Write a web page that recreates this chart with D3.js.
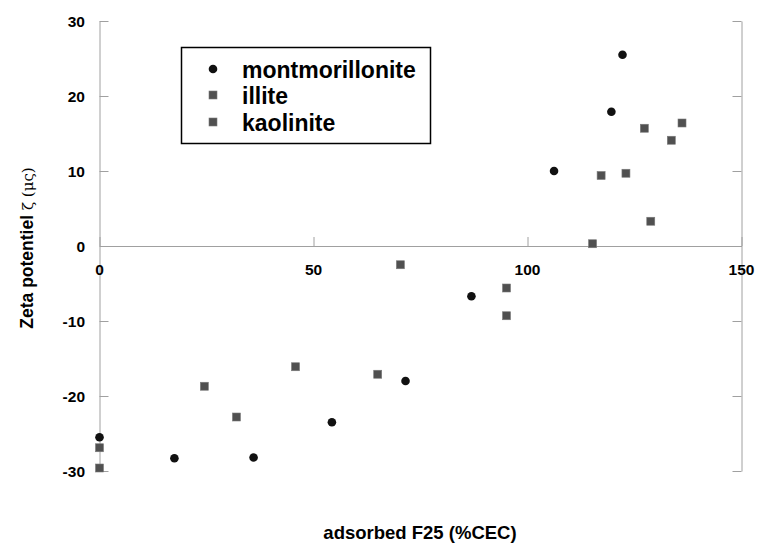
<!DOCTYPE html>
<html>
<head>
<meta charset="utf-8">
<script src="https://cdn.jsdelivr.net/npm/d3@7"></script>
<style>
  html, body { margin: 0; padding: 0; background: #fff; }
  svg { display: block; font-family: "Liberation Sans", Arial, sans-serif; }
</style>
</head>
<body>
<svg id="chart" width="757" height="547"></svg>
<script>
// ---- data ----
const montX = [0, 17.5, 36, 54.3, 71.5, 86.9, 106.2, 119.6, 122.2];
const montY = [-25.5, -28.3, -28.2, -23.5, -18, -6.7, 10, 17.9, 25.5];
const illiteX = [0, 24.5, 32, 45.8, 65, 70.3, 95.1, 95.1];
const illiteY = [-26.9, -18.7, -22.8, -16.1, -17.1, -2.5, -5.6, -9.3];
const kaolX = [0, 115.2, 117.2, 123, 127.3, 128.8, 133.6, 136.1];
const kaolY = [-29.6, 0.3, 9.4, 9.7, 15.7, 3.3, 14.1, 16.4];
const xTicks = [0, 50, 100, 150];
const yTicks = [-30, -20, -10, 0, 10, 20, 30];
const seriesNames = ["montmorillonite", "illite", "kaolinite"];

const svg = d3.select("#chart");
const x = d3.scaleLinear().domain([0, 150]).range([99.5, 741.5]);
const y = d3.scaleLinear().domain([-30, 30]).range([471, 21]);
const axisColor = "#a0a0a0";

// left axis (ticks pointing inward)
const gl = svg.append("g").attr("transform", `translate(${x(0)},0)`)
  .call(d3.axisRight(y).tickValues(yTicks).tickSize(9).tickSizeOuter(0).tickFormat(""));
gl.select(".domain").attr("stroke", axisColor);
gl.selectAll(".tick line").attr("stroke", axisColor);
svg.append("g").selectAll("text").data(yTicks).join("text")
  .attr("x", 85).attr("y", d => y(d)).attr("dy", "0.36em")
  .attr("text-anchor", "end").attr("font-size", 15.5).attr("font-weight", "bold")
  .text(d => d);

// right axis (ticks pointing inward)
const gr = svg.append("g").attr("transform", `translate(${x(150)},0)`)
  .call(d3.axisLeft(y).tickValues(yTicks).tickSize(9).tickSizeOuter(0).tickFormat(""));
gr.select(".domain").attr("stroke", axisColor);
gr.selectAll(".tick line").attr("stroke", axisColor);

// x axis at y=0, ticks pointing up
const gx = svg.append("g").attr("transform", `translate(0,${y(0)})`)
  .call(d3.axisTop(x).tickValues(xTicks).tickSize(9).tickSizeOuter(0).tickFormat(""));
gx.select(".domain").attr("stroke", axisColor);
gx.selectAll(".tick line").attr("stroke", axisColor);
svg.append("g").selectAll("text").data(xTicks).join("text")
  .attr("x", d => x(d)).attr("y", y(0) + 29)
  .attr("text-anchor", "middle").attr("font-size", 15.5).attr("font-weight", "bold")
  .text(d => d);

// points
const pts = svg.append("g");
const sq = 8;
function squares(xs, ys) {
  pts.append("g").selectAll("rect").data(xs.map((v, i) => [v, ys[i]])).join("rect")
    .attr("x", d => x(d[0]) - sq / 2).attr("y", d => y(d[1]) - sq / 2)
    .attr("width", sq).attr("height", sq)
    .attr("fill", "#505050").attr("stroke", "#7a7a7a").attr("stroke-width", 0.6);
}
squares(illiteX, illiteY);
squares(kaolX, kaolY);
pts.append("g").selectAll("circle").data(montX.map((v, i) => [v, montY[i]])).join("circle")
  .attr("cx", d => x(d[0])).attr("cy", d => y(d[1])).attr("r", 4.3)
  .attr("fill", "#111");

// legend
const lg = svg.append("g");
lg.append("rect").attr("x", 181.5).attr("y", 47.5).attr("width", 249).attr("height", 96)
  .attr("fill", "#fff").attr("stroke", "#000").attr("stroke-width", 1.5);
const rowsY = [69, 95, 122];
lg.append("circle").attr("cx", 213).attr("cy", rowsY[0]).attr("r", 4.3).attr("fill", "#111");
[1, 2].forEach(i => {
  lg.append("rect").attr("x", 213 - sq / 2).attr("y", rowsY[i] - sq / 2)
    .attr("width", sq).attr("height", sq).attr("fill", "#505050")
    .attr("stroke", "#7a7a7a").attr("stroke-width", 0.6);
});
lg.selectAll("text.lt").data(seriesNames).join("text").attr("class", "lt")
  .attr("x", 242).attr("y", (d, i) => rowsY[i] + 8.5)
  .attr("font-size", 23).attr("font-weight", "bold").text(d => d);

// axis titles
svg.append("text").attr("x", 420).attr("y", 539).attr("text-anchor", "middle")
  .attr("font-size", 18.5).attr("font-weight", "bold").text("adsorbed F25 (%CEC)");
const yt = svg.append("text").attr("transform", "translate(33,248) rotate(-90)")
  .attr("text-anchor", "middle").attr("font-size", 17.5);
yt.append("tspan").attr("font-weight", "bold").text("Zeta potentiel ");
yt.append("tspan").attr("font-family", "DejaVu Serif, serif").attr("font-size", 15).text("ζ (μς)");
</script>
</body>
</html>
